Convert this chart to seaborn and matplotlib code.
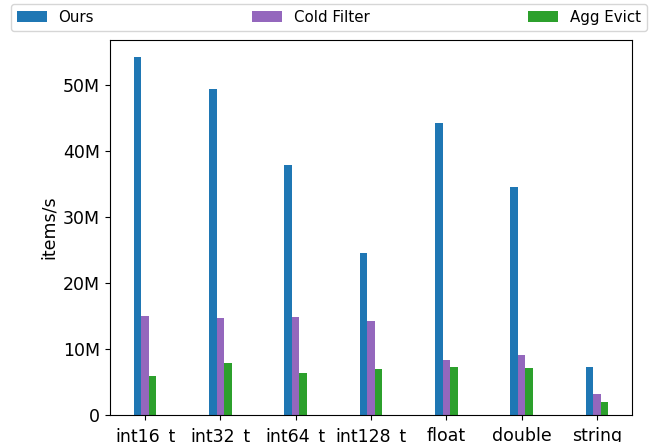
import numpy as np
import pandas as pd
import matplotlib
matplotlib.use("Agg")
import matplotlib.pyplot as plt
from matplotlib.ticker import FuncFormatter, MultipleLocator
from matplotlib.patches import Patch
import seaborn as sns

categories = ["int16_t", "int32_t", "int64_t", "int128_t", "float", "double", "string"]
series_names = ["Ours", "Cold Filter", "Agg Evict"]
ours = [54.1e6, 49.3e6, 37.8e6, 24.5e6, 44.2e6, 34.5e6, 7.3e6]
cold_filter = [15.0e6, 14.7e6, 14.9e6, 14.2e6, 8.35e6, 9.1e6, 3.2e6]
agg_evict = [5.95e6, 7.9e6, 6.4e6, 7.0e6, 7.3e6, 7.15e6, 2.0e6]
colors = ["#1f77b4", "#9467bd", "#2ca02c"]

rows = []
for name, vals in zip(series_names, [ours, cold_filter, agg_evict]):
    for c, v in zip(categories, vals):
        rows.append({"category": c, "series": name, "value": v})
df = pd.DataFrame(rows)

fig = plt.figure(figsize=(6.58, 4.42), dpi=100)
ax = fig.add_axes([0.1672, 0.06, 0.7933, 0.8506])

sns.barplot(data=df, x="category", y="value", hue="series",
            order=categories, hue_order=series_names,
            palette=colors, width=0.3, saturation=1.0,
            errorbar=None, ax=ax, legend=False)

ax.set_xlim(-0.465, 6.465)
ax.set_ylim(0, 56.8e6)
ax.yaxis.set_major_locator(MultipleLocator(10e6))
ax.yaxis.set_major_formatter(FuncFormatter(lambda v, p: "0" if v == 0 else f"{v/1e6:.0f}M"))
ax.set_xlabel("")
ax.set_ylabel("items/s", fontsize=12.5)
ax.tick_params(axis="y", labelsize=12.5)
ax.tick_params(axis="x", labelsize=12.5, pad=5)

handles = [Patch(facecolor=c, label=n) for c, n in zip(colors, series_names)]
fig.legend(handles=handles, loc="lower left", ncol=3, mode="expand",
           bbox_to_anchor=(0.016, 0.93, 0.968, 0.06), bbox_transform=fig.transFigure,
           fontsize=10.8, borderaxespad=0.0)

fig.savefig("out.png", dpi=100)
